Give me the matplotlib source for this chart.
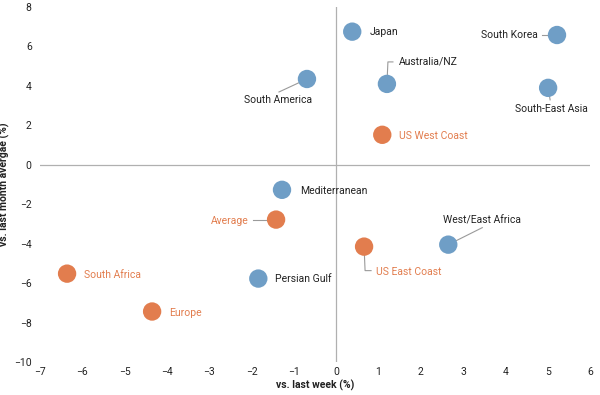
import matplotlib
matplotlib.use("Agg")
import matplotlib.pyplot as plt
from matplotlib.transforms import Affine2D, ScaledTranslation

plt.rcParams['font.family'] = ['Roboto', 'DejaVu Sans']

names = ["Japan", "South Korea", "Australia/NZ", "South-East Asia", "South America",
         "US West Coast", "Mediterranean", "Average", "West/East Africa", "US East Coast",
         "South Africa", "Persian Gulf", "Europe"]
x_week = [0.38, 5.22, 1.20, 5.01, -0.69, 1.09, -1.28, -1.42, 2.65, 0.66, -6.36, -1.84, -4.35]
y_month = [6.75, 6.58, 4.10, 3.90, 4.35, 1.52, -1.27, -2.78, -4.05, -4.15, -5.52, -5.77, -7.44]
group = ["b", "b", "b", "b", "b", "o", "b", "o", "b", "o", "o", "b", "o"]

xticks = [-7, -6, -5, -4, -3, -2, -1, 0, 1, 2, 3, 4, 5, 6]
yticks = [-10, -8, -6, -4, -2, 0, 2, 4, 6, 8]

BLUE = "#6f9ec6"
ORANGE = "#e27d4e"
TXT = "#222222"
GREY = "#9a9a9a"

# label placement: (dx, dy pixels, ha, leader path in pixel offsets)
layout = {
    "Japan": (17, 0, "left", None),
    "South Korea": (-19, 0, "right", [(0, 0), (-15, 0)]),
    "Australia/NZ": (12, 22, "left", [(0, 0), (1, 22), (6, 22)]),
    "South-East Asia": (3, -21, "center", [(0, 0), (2, -12)]),
    "South America": (-29, -21, "center", [(0, 0), (-28, -13)]),
    "US West Coast": (17, -1, "left", None),
    "Mediterranean": (18, -1, "left", None),
    "Average": (-27, -1, "right", [(0, 0), (-23, 0)]),
    "West/East Africa": (34, 24, "center", [(0, 0), (34, 17)]),
    "US East Coast": (12, -25, "left", [(0, 0), (1, -24), (7, -24)]),
    "South Africa": (17, -1, "left", None),
    "Persian Gulf": (17, 0, "left", None),
    "Europe": (17, -1, "left", None),
}

fig = plt.figure(figsize=(6, 3.95), dpi=100)
ax = fig.add_axes([40/600, 33/395, 550/600, 355/395])
ax.set_xlim(-7, 6)
ax.set_ylim(-10, 8)
for s in ax.spines.values():
    s.set_visible(False)
ax.axhline(0, color="#b0b0b0", lw=0.9, zorder=1)
ax.axvline(0, color="#b0b0b0", lw=0.9, zorder=1)
ax.set_xticks(xticks)
ax.set_yticks(yticks)
ax.tick_params(length=0, labelsize=7.5, colors=TXT)
ax.tick_params(axis="x", pad=3.5)
ax.tick_params(axis="y", pad=6)
ax.set_xlabel("vs. last week (%)", fontsize=7.5, fontweight="bold", color=TXT, labelpad=2)
ax.set_ylabel("vs. last month avergae (%)", fontsize=7.5, fontweight="bold", color=TXT, labelpad=3)

for n, xv, yv, g in zip(names, x_week, y_month, group):
    col = BLUE if g == "b" else ORANGE
    tcol = TXT if g == "b" else ORANGE
    ax.scatter([xv], [yv], s=175, color=col, edgecolors="none", zorder=3)
    dx, dy, ha, path = layout[n]
    ax.annotate(n, (xv, yv), xytext=(dx, dy), textcoords="offset pixels",
                ha=ha, va="center", fontsize=7.5, color=tcol, zorder=4)
    if path:
        tr = Affine2D() + ScaledTranslation(xv, yv, ax.transData)
        px = [p[0] for p in path]
        py = [p[1] for p in path]
        ax.plot(px, py, color=GREY, lw=0.8, transform=tr, zorder=2, clip_on=False)

fig.savefig("out.png", dpi=100)
